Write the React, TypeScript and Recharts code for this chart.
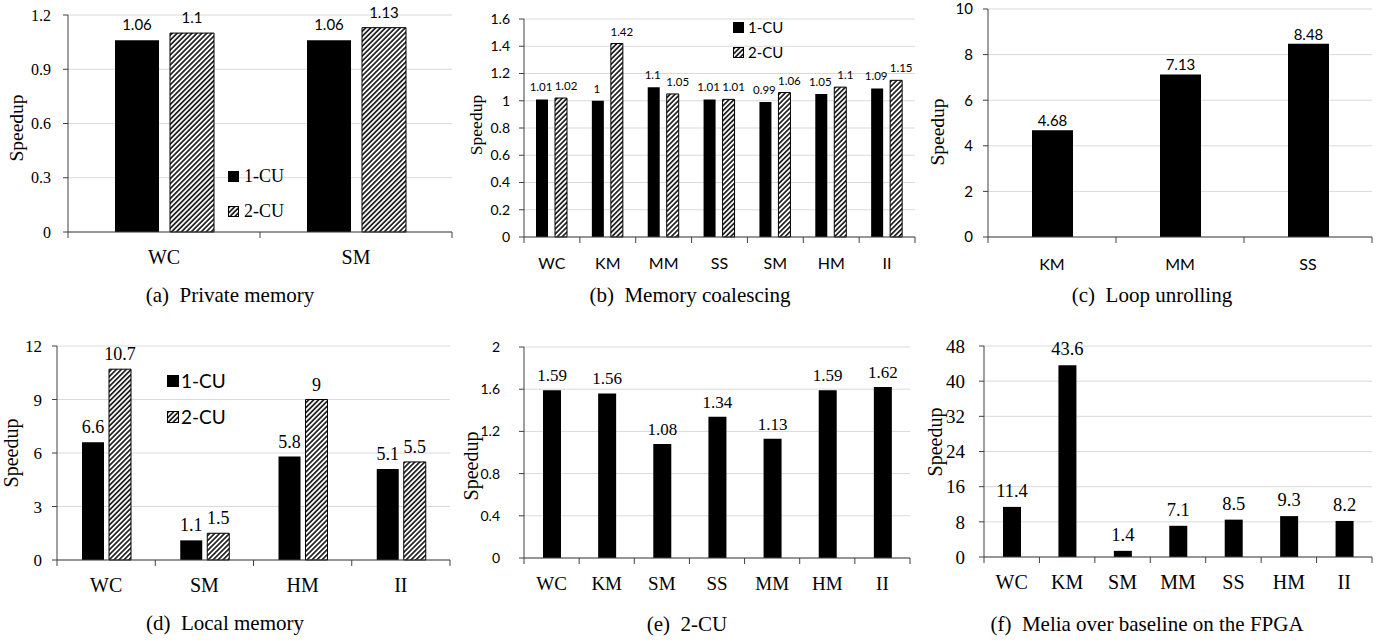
import React from 'react';
import { BarChart, Bar, XAxis, YAxis, CartesianGrid, LabelList, Legend } from 'recharts';

const SERIF = '"Liberation Serif", "Times New Roman", Times, serif';
const SANS = 'Lato, Carlito, Calibri, "Open Sans", sans-serif';
const AXIS = '#404040';
const GRID = '#d9d9d9';

const seriesNames = ['1-CU', '2-CU'];

// (a) Private memory
const aCategories = ['WC', 'SM'];
const a1CU = [1.06, 1.06];
const a2CU = [1.1, 1.13];
const aTicks = [0, 0.3, 0.6, 0.9, 1.2];

// (b) Memory coalescing
const bCategories = ['WC', 'KM', 'MM', 'SS', 'SM', 'HM', 'II'];
const b1CU = [1.01, 1, 1.1, 1.01, 0.99, 1.05, 1.09];
const b2CU = [1.02, 1.42, 1.05, 1.01, 1.06, 1.1, 1.15];
const bTicks = [0, 0.2, 0.4, 0.6, 0.8, 1, 1.2, 1.4, 1.6];

// (c) Loop unrolling
const cCategories = ['KM', 'MM', 'SS'];
const cValues = [4.68, 7.13, 8.48];
const cTicks = [0, 2, 4, 6, 8, 10];

// (d) Local memory
const dCategories = ['WC', 'SM', 'HM', 'II'];
const d1CU = [6.6, 1.1, 5.8, 5.1];
const d2CU = [10.7, 1.5, 9, 5.5];
const dTicks = [0, 3, 6, 9, 12];

// (e) 2-CU
const eCategories = ['WC', 'KM', 'SM', 'SS', 'MM', 'HM', 'II'];
const eValues = [1.59, 1.56, 1.08, 1.34, 1.13, 1.59, 1.62];
const eTicks = [0, 0.4, 0.8, 1.2, 1.6, 2];

// (f) Melia over baseline on the FPGA
const fCategories = ['WC', 'KM', 'SM', 'MM', 'SS', 'HM', 'II'];
const fValues = [11.4, 43.6, 1.4, 7.1, 8.5, 9.3, 8.2];
const fTicks = [0, 8, 16, 24, 32, 40, 48];

type Series = { key: string; name: string; values: number[]; hatch: boolean; labelDx?: number };

type LegendCfg = { x: number; y: number; rowH: number; sw: number; gap: number; font: string; size: number };

interface PanelProps {
  id: string;
  L: number; T: number; W: number; H: number;
  x0: number; y0: number; x1: number; y1: number;
  categories: string[];
  series: Series[];
  ticks: number[];
  barSize: number; barGap: number;
  yTickFont: string; yTickSize: number; yTickMargin: number;
  xFont: string; xSize: number; xDy: number;
  valFont: string; valSize: number; valOffset: number;
  ylabel: { x: number; y: number; size: number };
  legend?: LegendCfg;
}

const SpeedupLabel = (props: any) => {
  const { px, py, size } = props;
  return (
    <text
      x={px}
      y={py}
      transform={`rotate(-90, ${px}, ${py})`}
      textAnchor="middle"
      dominantBaseline="central"
      fontFamily={SERIF}
      fontSize={size}
      fill="#000"
    >
      Speedup
    </text>
  );
};

function Swatch({ hatch, size, pid }: { hatch: boolean; size: number; pid: string }) {
  return (
    <svg width={size} height={size} style={{ display: 'block', flex: 'none' }}>
      <defs>
        <pattern id={pid} patternUnits="userSpaceOnUse" width={3.5} height={3.5} patternTransform="rotate(45)">
          <rect width={3.5} height={3.5} fill="#fff" />
          <line x1={1.75} y1={0} x2={1.75} y2={3.5} stroke="#000" strokeWidth={1.5} />
        </pattern>
      </defs>
      <rect
        x={0.5}
        y={0.5}
        width={size - 1}
        height={size - 1}
        fill={hatch ? `url(#${pid})` : '#000'}
        stroke="#000"
        strokeWidth={1}
      />
    </svg>
  );
}

function Panel(p: PanelProps) {
  const xAxisH = 40;
  const margin = { top: p.y0 - p.T, right: p.L + p.W - p.x1, left: 0, bottom: p.T + p.H - p.y1 - xAxisH };
  const n = p.categories.length;
  const band = (p.x1 - p.x0) / n;
  const data = p.categories.map((c, i) => {
    const row: any = { name: c };
    p.series.forEach((s) => {
      row[s.key] = s.values[i];
    });
    return row;
  });
  const hatchId = `hatch-${p.id}`;

  const renderXTick = (props: any) => {
    const { x, y, payload, index } = props;
    return (
      <g>
        <line x1={x - band / 2} y1={y} x2={x - band / 2} y2={y + 6} stroke={AXIS} />
        {index === n - 1 && <line x1={x + band / 2} y1={y} x2={x + band / 2} y2={y + 6} stroke={AXIS} />}
        <text
          x={x}
          y={y + p.xDy}
          textAnchor="middle"
          dominantBaseline="central"
          fontFamily={p.xFont}
          fontSize={p.xSize}
          fill="#000"
        >
          {payload.value}
        </text>
      </g>
    );
  };

  const lg = p.legend;
  const renderLegend = () =>
    lg ? (
      <div style={{ fontFamily: lg.font, fontSize: lg.size, color: '#000' }}>
        {p.series.map((s, i) => (
          <div key={s.key} style={{ display: 'flex', alignItems: 'center', height: lg.rowH }}>
            <Swatch hatch={s.hatch} size={lg.sw} pid={`lh-${p.id}-${i}`} />
            <span style={{ marginLeft: lg.gap, lineHeight: `${lg.rowH}px`, whiteSpace: 'nowrap' }}>{s.name}</span>
          </div>
        ))}
      </div>
    ) : null;

  return (
    <div style={{ position: 'absolute', left: p.L, top: p.T, width: p.W, height: p.H }}>
      <BarChart width={p.W} height={p.H} data={data} margin={margin} barGap={p.barGap}>
        <defs>
          <pattern id={hatchId} patternUnits="userSpaceOnUse" width={3.5} height={3.5} patternTransform="rotate(45)">
            <rect width={3.5} height={3.5} fill="#fff" />
            <line x1={1.75} y1={0} x2={1.75} y2={3.5} stroke="#000" strokeWidth={1.5} />
          </pattern>
        </defs>
        <CartesianGrid vertical={false} stroke={GRID} strokeWidth={1} />
        <XAxis
          dataKey="name"
          interval={0}
          height={xAxisH}
          tickSize={0}
          tickMargin={0}
          tickLine={false}
          axisLine={{ stroke: AXIS, strokeWidth: 1 }}
          tick={renderXTick}
        />
        <YAxis
          type="number"
          domain={[p.ticks[0], p.ticks[p.ticks.length - 1]]}
          ticks={p.ticks}
          interval={0}
          width={p.x0 - p.L}
          tickSize={5}
          tickMargin={p.yTickMargin}
          axisLine={{ stroke: AXIS, strokeWidth: 1 }}
          tickLine={{ stroke: AXIS }}
          tick={{ fontFamily: p.yTickFont, fontSize: p.yTickSize, fill: '#000' }}
          label={<SpeedupLabel px={p.ylabel.x - p.L} py={p.ylabel.y - p.T} size={p.ylabel.size} />}
        />
        {lg && (
          <Legend
            layout="vertical"
            align="center"
            verticalAlign="middle"
            content={renderLegend}
            wrapperStyle={{
              position: 'absolute',
              left: lg.x - p.L,
              top: lg.y - p.T,
              width: 'auto',
              height: 'auto',
              margin: 0,
            }}
          />
        )}
        {p.series.map((s) => (
          <Bar
            key={s.key}
            dataKey={s.key}
            name={s.name}
            barSize={p.barSize}
            fill={s.hatch ? `url(#${hatchId})` : '#000'}
            stroke={s.hatch ? '#000' : 'none'}
            strokeWidth={s.hatch ? 1 : 0}
            isAnimationActive={false}
          >
            <LabelList
              dataKey={s.key}
              position="top"
              offset={p.valOffset}
              dx={s.labelDx || 0}
              fontFamily={p.valFont}
              fontSize={p.valSize}
              fill="#000"
            />
          </Bar>
        ))}
      </BarChart>
    </div>
  );
}

function Caption({ cx, cy, text }: { cx: number; cy: number; text: string }) {
  return (
    <div
      style={{
        position: 'absolute',
        left: cx - 250,
        top: cy - 13,
        width: 500,
        height: 26,
        lineHeight: '26px',
        textAlign: 'center',
        fontFamily: SERIF,
        fontSize: 21,
        color: '#000',
        whiteSpace: 'pre',
      }}
    >
      {text}
    </div>
  );
}

export default function App() {
  return (
    <div style={{ position: 'absolute', left: 0, top: 0, width: 1385, height: 642, background: '#fff', overflow: 'hidden' }}>
      <Panel
        id="a"
        L={0} T={0} W={455} H={280}
        x0={68} y0={15} x1={452} y1={232}
        categories={aCategories}
        series={[
          { key: 's1', name: seriesNames[0], values: a1CU, hatch: false },
          { key: 's2', name: seriesNames[1], values: a2CU, hatch: true },
        ]}
        ticks={aTicks}
        barSize={44} barGap={11}
        yTickFont={SERIF} yTickSize={16} yTickMargin={12}
        xFont={SERIF} xSize={20} xDy={25}
        valFont={SANS} valSize={15} valOffset={10}
        ylabel={{ x: 16, y: 128, size: 19.5 }}
        legend={{ x: 228, y: 158.5, rowH: 35, sw: 11, gap: 5, font: SERIF, size: 18 }}
      />
      <Panel
        id="b"
        L={455} T={0} W={465} H={280}
        x0={524} y0={19} x1={915} y1={237}
        categories={bCategories}
        series={[
          { key: 's1', name: seriesNames[0], values: b1CU, hatch: false, labelDx: -1 },
          { key: 's2', name: seriesNames[1], values: b2CU, hatch: true, labelDx: 5 },
        ]}
        ticks={bTicks}
        barSize={12} barGap={7}
        yTickFont={SANS} yTickSize={14} yTickMargin={9}
        xFont={SANS} xSize={16} xDy={25}
        valFont={SANS} valSize={11.5} valOffset={8}
        ylabel={{ x: 476, y: 125, size: 17.5 }}
        legend={{ x: 733, y: 14.5, rowH: 25, sw: 11, gap: 4, font: SANS, size: 15 }}
      />
      <Panel
        id="c"
        L={920} T={0} W={465} H={280}
        x0={988} y0={9} x1={1372} y1={237}
        categories={cCategories}
        series={[{ key: 's1', name: 'Speedup', values: cValues, hatch: false }]}
        ticks={cTicks}
        barSize={41} barGap={0}
        yTickFont={SANS} yTickSize={15} yTickMargin={10}
        xFont={SANS} xSize={16} xDy={26}
        valFont={SANS} valSize={15} valOffset={4}
        ylabel={{ x: 937, y: 132, size: 19.5 }}
      />
      <Panel
        id="d"
        L={0} T={320} W={455} H={290}
        x0={57} y0={346} x1={450} y1={560}
        categories={dCategories}
        series={[
          { key: 's1', name: seriesNames[0], values: d1CU, hatch: false },
          { key: 's2', name: seriesNames[1], values: d2CU, hatch: true },
        ]}
        ticks={dTicks}
        barSize={22} barGap={5}
        yTickFont={SERIF} yTickSize={17} yTickMargin={10}
        xFont={SERIF} xSize={20} xDy={25}
        valFont={SERIF} valSize={18} valOffset={9}
        ylabel={{ x: 10.5, y: 453, size: 20 }}
        legend={{ x: 167, y: 363, rowH: 36, sw: 12, gap: 2, font: SANS, size: 19 }}
      />
      <Panel
        id="e"
        L={455} T={320} W={465} H={290}
        x0={524} y0={347} x1={910} y1={558}
        categories={eCategories}
        series={[{ key: 's1', name: '2-CU', values: eValues, hatch: false }]}
        ticks={eTicks}
        barSize={18} barGap={0}
        yTickFont={SANS} yTickSize={14} yTickMargin={19}
        xFont={SERIF} xSize={19} xDy={25}
        valFont={SERIF} valSize={17} valOffset={9}
        ylabel={{ x: 471, y: 466, size: 20 }}
      />
      <Panel
        id="f"
        L={920} T={320} W={465} H={290}
        x0={984} y0={346} x1={1372} y1={557}
        categories={fCategories}
        series={[{ key: 's1', name: 'Melia', values: fValues, hatch: false }]}
        ticks={fTicks}
        barSize={18} barGap={0}
        yTickFont={SERIF} yTickSize={19} yTickMargin={14}
        xFont={SERIF} xSize={20} xDy={25}
        valFont={SERIF} valSize={18.5} valOffset={10}
        ylabel={{ x: 935, y: 442, size: 20 }}
      />
      <Caption cx={230} cy={295} text={'(a)\u2002Private memory'} />
      <Caption cx={690} cy={295} text={'(b)\u2002Memory coalescing'} />
      <Caption cx={1152} cy={295} text={'(c)\u2002Loop unrolling'} />
      <Caption cx={225} cy={623} text={'(d)\u2002Local memory'} />
      <Caption cx={687} cy={624} text={'(e)\u20022-CU'} />
      <Caption cx={1147} cy={624} text={'(f)\u2002Melia over baseline on the FPGA'} />
    </div>
  );
}
